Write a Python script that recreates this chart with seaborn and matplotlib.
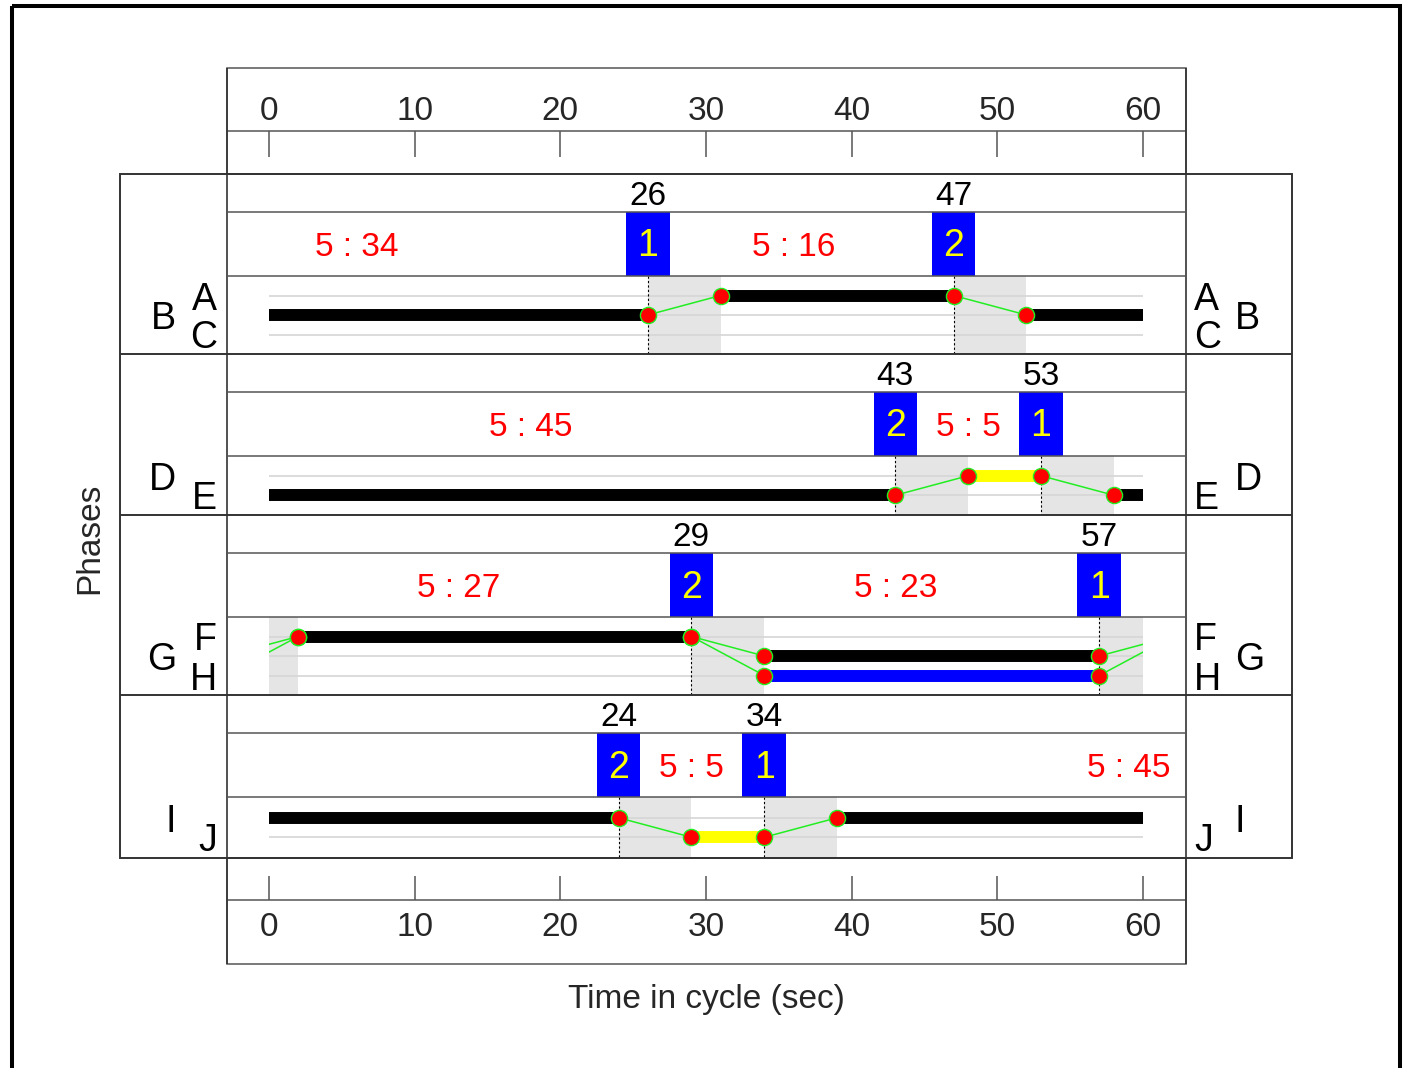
import numpy as np
import pandas as pd
import matplotlib
matplotlib.use("Agg")
import matplotlib.pyplot as plt
import seaborn as sns
from matplotlib.patches import Rectangle

sns.set_theme(style="white")
plt.rcParams["font.family"] = ["Liberation Sans", "DejaVu Sans"]

# ---------------- data ----------------
tick_values = [0, 10, 20, 30, 40, 50, 60]
cycle_len = 60
trans_len = 5

p_rows = [["A", "B", "C"], ["D", "E"], ["F", "G", "H"], ["I", "J"]]
p_row_outer = [[False, True, False], [True, False], [False, True, False], [True, False]]

phase_times = [[26, 47], [43, 53], [29, 57], [24, 34]]
phase_ids = [["1", "2"], ["2", "1"], ["2", "1"], ["2", "1"]]

split_text = [["5 : 34", "5 : 16"], ["5 : 45", "5 : 5"], ["5 : 27", "5 : 23"], ["5 : 5", "5 : 45"]]
split_pos = [[6, 36], [18, 48], [13, 43], [29, 59]]

seg_row = [["B", "A", "B"], ["E", "D", "E"], ["F", "G", "H"], ["I", "J", "I"]]
seg_start = [[0, 31, 52], [0, 48, 58], [2, 34, 34], [0, 29, 39]]
seg_end = [[26, 47, 60], [43, 53, 60], [29, 57, 57], [24, 34, 60]]
seg_color = [["black", "black", "black"], ["black", "yellow", "black"],
             ["black", "black", "blue"], ["black", "yellow", "black"]]

tr_from = [["B", "A"], ["E", "D"], ["F", "F", "G", "H", "G", "H"], ["I", "J"]]
tr_to = [["A", "B"], ["D", "E"], ["G", "H", "F", "F", "F", "F"], ["J", "I"]]
tr_start = [[26, 47], [43, 53], [29, 29, 57, 57, -3, -3], [24, 34]]

# ---------------- layout (pixels) ----------------
W, H = 1408, 1068
X0PX, X1PX = 227, 1186
T0PX, T60PX = 269, 1143
S = (T60PX - T0PX) / cycle_len
TL = (X0PX - T0PX) / S
TR = (X1PX - T0PX) / S

panel_top = [174, 354, 515, 695]
panel_bot = [354, 515, 695, 858]
sep1 = [212, 392, 553, 733]
sep2 = [276, 456, 617, 797]
row_gap = 19.5
FS = 24
FS_BIG = 27
HALF_DIGIT = 12

fig = plt.figure(figsize=(W / 100, H / 100), dpi=100)

ax = fig.add_axes([X0PX / W, 0, (X1PX - X0PX) / W, 1])
ax.set_xlim(TL, TR)
ax.set_ylim(H, 0)
ax.axis("off")
ax.patch.set_alpha(0)

fg = fig.add_axes([0, 0, 1, 1], zorder=5)
fg.set_xlim(0, W)
fg.set_ylim(H, 0)
fg.axis("off")
fg.patch.set_alpha(0)

clip_rect = Rectangle((0, 0), cycle_len, H, transform=ax.transData, visible=False)
ax.add_patch(clip_rect)

dot_records = []
for i in range(4):
    rows = p_rows[i]
    n = len(rows)
    center = (sep2[i] + panel_bot[i]) / 2
    ry = {r: center + (k - (n - 1) / 2) * row_gap for k, r in enumerate(rows)}

    # shaded transition intervals
    for t0 in tr_start[i]:
        a, b = max(t0, 0), min(t0 + trans_len, cycle_len)
        ax.add_patch(Rectangle((a, sep2[i]), b - a, panel_bot[i] - sep2[i],
                               facecolor="#e5e5e5", edgecolor="none", zorder=1))
    # row guide lines
    ax.hlines([ry[r] for r in rows], 0, cycle_len, colors="#d6d6d6", lw=1.2, zorder=2)
    # dotted phase change lines
    ax.vlines(phase_times[i], sep2[i], panel_bot[i], colors="black",
              linestyles=(0, (2, 2)), lw=0.8, zorder=3)
    # transitions
    for fr, to, t0 in zip(tr_from[i], tr_to[i], tr_start[i]):
        ln, = ax.plot([t0, t0 + trans_len], [ry[fr], ry[to]], color="#22ee22", lw=1.1, zorder=4)
        ln.set_clip_path(clip_rect)
        for t, r in ((t0, fr), (t0 + trans_len, to)):
            if 0 <= t <= cycle_len:
                dot_records.append({"t": t, "y": ry[r]})
    # thick signal bars
    for r, s0, e0, c in zip(seg_row[i], seg_start[i], seg_end[i], seg_color[i]):
        ax.plot([s0, e0], [ry[r], ry[r]], color=c, lw=8.6, solid_capstyle="butt", zorder=5)
    # phase boxes and numbers
    mid = (sep1[i] + sep2[i]) / 2
    toprow = (panel_top[i] + sep1[i]) / 2
    for t, pid in zip(phase_times[i], phase_ids[i]):
        ax.add_patch(Rectangle((t - 1.5, sep1[i]), 3, sep2[i] - sep1[i],
                               facecolor="#0000ff", edgecolor="none", zorder=3))
        ax.text(t, mid + 12.5, pid, color="#ffff00", fontsize=FS_BIG, ha="center",
                va="baseline", zorder=6)
        ax.text(t, toprow + HALF_DIGIT, str(t), color="black", fontsize=FS, ha="center",
                va="baseline", zorder=6)
    for txt, pos in zip(split_text[i], split_pos[i]):
        ax.text(pos, mid + HALF_DIGIT, txt, color="#ff0000", fontsize=FS, ha="center",
                va="baseline", zorder=6)
    # row labels left/right
    for r, outer in zip(rows, p_row_outer[i]):
        y = ry[r] + 14
        fg.text(176 if outer else 217, y, r, fontsize=FS_BIG, ha="right", va="baseline", color="black")
        fg.text(1235 if outer else 1194, y, r, fontsize=FS_BIG, ha="left", va="baseline", color="black")

dots = pd.DataFrame(dot_records)
sns.scatterplot(data=dots, x="t", y="y", ax=ax, s=135, color="#ff0000",
                edgecolor="#22ee22", linewidth=1.0, zorder=7, legend=False)
ax.set_xlim(TL, TR)
ax.set_ylim(H, 0)
ax.axis("off")

# ---------------- tick axes ----------------
def tick_axes(ytop, ybot, top):
    a = fig.add_axes([X0PX / W, 1 - ybot / H, (X1PX - X0PX) / W, (ybot - ytop) / H], zorder=4)
    a.set_xlim(TL, TR)
    a.set_ylim(0, 1)
    a.set_yticks([])
    for sp in a.spines.values():
        sp.set_visible(False)
    a.patch.set_alpha(0)
    a.set_xticks(tick_values)
    a.set_xticklabels([str(v) for v in tick_values])
    if top:
        a.xaxis.tick_top()
        a.tick_params(axis="x", direction="in", length=26 * 0.72, width=1.1, color="#555555",
                      labelsize=FS, pad=3.2, top=True, bottom=False, labeltop=True, labelbottom=False)
    else:
        a.tick_params(axis="x", direction="in", length=24 * 0.72, width=1.1, color="#555555",
                      labelsize=FS, pad=9, top=False, bottom=True)
    return a

tick_axes(131, 174, True)
tick_axes(858, 900, False)

# ---------------- frames ----------------
dark, mid_c = "#333333", "#555555"
fg.add_patch(Rectangle((12, 6), 1388, 1200, fill=False, edgecolor="black", lw=2.9))
fg.add_patch(Rectangle((X0PX, 68), X1PX - X0PX, 106, fill=False, edgecolor=mid_c, lw=1.1))
fg.hlines(131, X0PX, X1PX, colors=mid_c, lw=1.1)
fg.add_patch(Rectangle((X0PX, 858), X1PX - X0PX, 106, fill=False, edgecolor=mid_c, lw=1.1))
fg.hlines(900, X0PX, X1PX, colors=mid_c, lw=1.1)
fg.add_patch(Rectangle((120, 174), 1172, 684, fill=False, edgecolor=dark, lw=1.4))
fg.hlines(panel_bot[:3], 120, 1292, colors=dark, lw=1.4)
fg.vlines([X0PX, X1PX], 68, 964, colors=dark, lw=1.2)
fg.hlines(sep1 + sep2, X0PX, X1PX, colors=mid_c, lw=1.1)

fg.text((X0PX + X1PX) / 2, 1008, "Time in cycle (sec)", fontsize=FS, ha="center", va="baseline")
fg.text(90, 538, "Phases", fontsize=FS, rotation=90, ha="center", va="center")

fig.savefig("out.png", dpi=100)
